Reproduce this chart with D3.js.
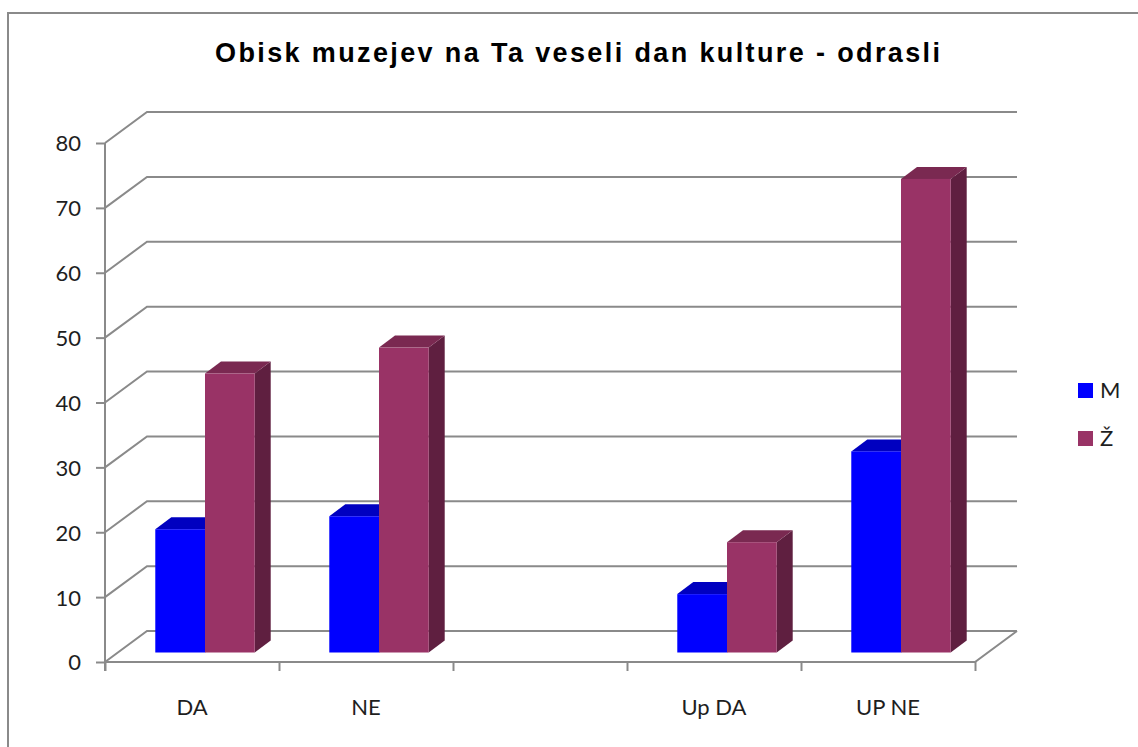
<!DOCTYPE html>
<html>
<head>
<meta charset="utf-8">
<script src="https://cdn.jsdelivr.net/npm/d3@7"></script>
<style>
  html, body { margin: 0; padding: 0; background: #fff; }
  svg { display: block; }
</style>
</head>
<body>
<svg id="chart" width="1138" height="747"></svg>
<script>
// Visitors to museums on "Ta veseli dan kulture" — adults, by sex
const categories = ["DA", "NE", "", "Up DA", "UP NE"];
const seriesNames = ["M", "Ž"];
const valuesM = [19, 21, null, 9, 31];
const valuesZ = [43, 47, null, 17, 73];
const yTicks = [0, 10, 20, 30, 40, 50, 60, 70, 80];
const titleText = "Obisk muzejev na Ta veseli dan kulture - odrasli";

const colors = {
  "M": { front: "#0000ff", top: "#0000c0", side: "#00009a" },
  "Ž": { front: "#993366", top: "#7a2951", side: "#5f1f40" }
};

const svg = d3.select("#chart");
const gridColor = "#8a8a8a";
const labelFont = "Lato, 'Open Sans', sans-serif";

// Plot frame (front plane) and oblique depth of the 3D box
const plotLeft = 105, plotRight = 975, plotBottom = 662, plotTop = 143;
const depthX = 42, depthY = 31;
// Bars sit in the middle of the depth with ~38% of it as their own depth
const barDX = 16, barDY = 12;
const barOffX = (depthX - barDX) / 2, barOffY = (depthY - barDY) / 2;

const y = d3.scaleLinear().domain([0, 80]).range([plotBottom, plotTop]);
const x0 = d3.scaleBand().domain(categories.map((c, i) => i)).range([plotLeft, plotRight]).padding(0);
const x1 = d3.scaleBand().domain(seriesNames).range([0, x0.bandwidth()])
  .paddingInner(0).paddingOuter(0.75);

// Outer chart border
svg.append("rect")
  .attr("x", 8).attr("y", 13)
  .attr("width", 1200).attr("height", 800)
  .attr("fill", "none").attr("stroke", gridColor).attr("stroke-width", 2);

// Title
svg.append("text")
  .attr("x", 215).attr("y", 62)
  .attr("font-family", "'Liberation Sans', Arial, sans-serif")
  .attr("font-weight", "bold")
  .attr("font-size", 27)
  .attr("textLength", 725)
  .attr("lengthAdjust", "spacing")
  .attr("fill", "#000")
  .text(titleText);

// Back wall gridlines with their side-wall diagonals
const grid = svg.append("g").attr("fill", "none").attr("stroke", gridColor).attr("stroke-width", 2);
grid.selectAll("path.grid").data(yTicks).join("path")
  .attr("class", "grid")
  .attr("d", v => `M${plotLeft},${y(v)} L${plotLeft + depthX},${y(v) - depthY} L${plotRight + depthX},${y(v) - depthY}`);

// Floor: front edge and right edge
grid.append("path")
  .attr("d", `M${plotLeft},${plotBottom} L${plotRight},${plotBottom} L${plotRight + depthX},${plotBottom - depthY}`);

// Bars (front face, top, right side)
const barsData = [];
categories.forEach((c, i) => {
  [["M", valuesM[i]], ["Ž", valuesZ[i]]].forEach(([s, v]) => {
    if (v != null) barsData.push({ i, s, v });
  });
});

const bars = svg.append("g");
const barW = x1.bandwidth();
barsData.forEach(d => {
  const xl = x0(d.i) + x1(d.s) + barOffX;
  const xr = xl + barW;
  const yb = y(0) - barOffY;
  const yt = y(d.v) - barOffY;
  const c = colors[d.s];
  const g = bars.append("g");
  g.append("path")
    .attr("d", `M${xr},${yb} L${xr + barDX},${yb - barDY} L${xr + barDX},${yt - barDY} L${xr},${yt} Z`)
    .attr("fill", c.side);
  g.append("path")
    .attr("d", `M${xl},${yt} L${xl + barDX},${yt - barDY} L${xr + barDX},${yt - barDY} L${xr},${yt} Z`)
    .attr("fill", c.top);
  g.append("rect")
    .attr("x", xl).attr("y", yt)
    .attr("width", barW).attr("height", yb - yt)
    .attr("fill", c.front);
});

// Y axis
const yAxis = svg.append("g")
  .attr("transform", `translate(${plotLeft},0)`)
  .call(d3.axisLeft(y).tickValues(yTicks).tickSize(9).tickPadding(15).tickSizeOuter(0));
yAxis.select(".domain").attr("stroke", gridColor).attr("stroke-width", 2)
  .attr("d", `M0,${plotTop}V${plotBottom + 9}`);
yAxis.selectAll(".tick line").attr("stroke", gridColor).attr("stroke-width", 2);
yAxis.selectAll(".tick text")
  .attr("font-family", labelFont).attr("font-size", 22).attr("fill", "#1e1e1e").attr("dy", "0.36em");

// X axis: tick marks at category boundaries, labels centred in each band
const xEdges = d3.scaleLinear().domain([0, categories.length]).range([plotLeft, plotRight]);
const xAxis = svg.append("g")
  .attr("transform", `translate(0,${plotBottom})`)
  .call(d3.axisBottom(xEdges).tickValues(d3.range(categories.length + 1)).tickSize(9).tickFormat(""));
xAxis.select(".domain").remove();
xAxis.selectAll(".tick line").attr("stroke", gridColor).attr("stroke-width", 2);

svg.append("g").selectAll("text").data(categories).join("text")
  .attr("x", (c, i) => x0(i) + x0.bandwidth() / 2)
  .attr("y", 715)
  .attr("text-anchor", "middle")
  .attr("font-family", labelFont).attr("font-size", 22).attr("fill", "#1e1e1e")
  .text(c => c);

// Legend
const legend = svg.append("g").attr("transform", "translate(1078,383)");
seriesNames.forEach((s, k) => {
  const row = legend.append("g").attr("transform", `translate(0,${k * 48})`);
  row.append("rect").attr("width", 15).attr("height", 15).attr("fill", colors[s].front);
  row.append("text").attr("x", 22).attr("y", 15)
    .attr("font-family", labelFont).attr("font-size", 22).attr("fill", "#1e1e1e")
    .text(s);
});
</script>
</body>
</html>
